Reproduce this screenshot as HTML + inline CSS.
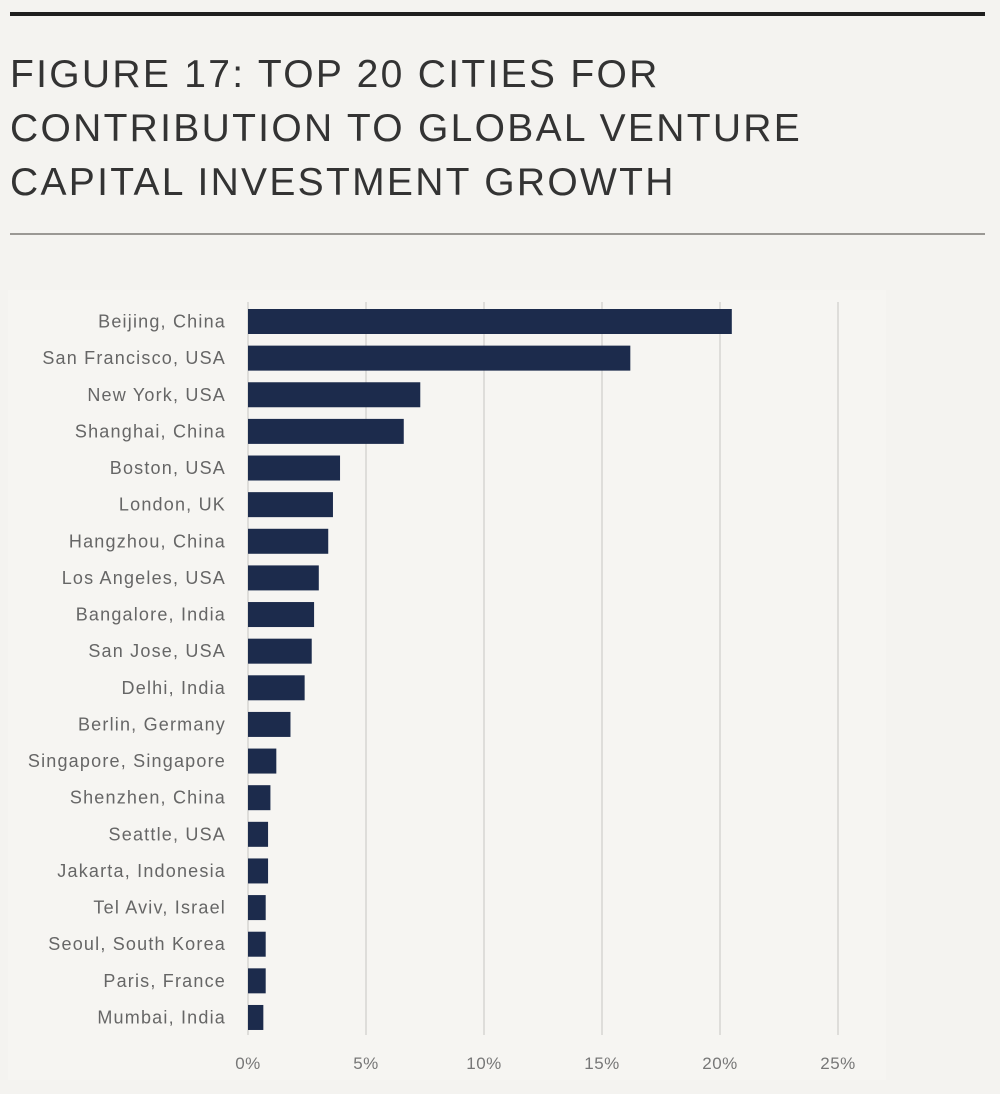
<!DOCTYPE html>
<html><head><meta charset="utf-8"><style>
body{margin:0;width:1000px;height:1094px;background:#f4f3f0;overflow:hidden;font-family:"Liberation Sans",sans-serif;}
.rule1{position:absolute;left:10px;top:12px;width:975px;height:4px;background:#1e1e1e;}
.rule2{position:absolute;left:10px;top:233px;width:975px;height:2px;background:#9a9894;}
.title{position:absolute;left:10px;top:48px;font-size:39px;line-height:54px;letter-spacing:2.3px;color:#333;font-weight:normal;white-space:nowrap;}
.panel{position:absolute;left:8px;top:290px;width:878px;height:790px;background:#f6f5f2;}
svg{position:absolute;left:0;top:0;}
</style></head><body>
<div class="rule1"></div>
<div class="title">FIGURE 17: TOP 20 CITIES FOR<br>CONTRIBUTION TO GLOBAL VENTURE<br>CAPITAL INVESTMENT GROWTH</div>
<div class="rule2"></div>
<div class="panel"></div>
<svg id="chart" width="1000" height="1094"></svg>
<script>
const categories=["Beijing, China","San Francisco, USA","New York, USA","Shanghai, China","Boston, USA","London, UK","Hangzhou, China","Los Angeles, USA","Bangalore, India","San Jose, USA","Delhi, India","Berlin, Germany","Singapore, Singapore","Shenzhen, China","Seattle, USA","Jakarta, Indonesia","Tel Aviv, Israel","Seoul, South Korea","Paris, France","Mumbai, India"];
const values=[20.5,16.2,7.3,6.6,3.9,3.6,3.4,3.0,2.8,2.7,2.4,1.8,1.2,0.95,0.85,0.85,0.75,0.75,0.75,0.65];
const ticks=[0,5,10,15,20,25];
const tickLabels=["0%","5%","10%","15%","20%","25%"];
const svg=document.getElementById('chart');const NS="http://www.w3.org/2000/svg";
const x0=248,pxPer=23.6,y0=321.5,step=36.63,bh=25;
const xs=v=>x0+v*pxPer; const ys=i=>y0+i*step;
function mk(t,a){const e=document.createElementNS(NS,t);for(const k in a)e.setAttribute(k,a[k]);svg.appendChild(e);return e;}
ticks.forEach((t,i)=>{
 const g=mk('line',{x1:xs(t),x2:xs(t),y1:302,y2:1035,stroke:'#d6d5d2','stroke-width':1.5});
 
 
 const l=mk('text',{x:xs(t),y:1069,'text-anchor':'middle','font-size':17,'letter-spacing':0.5,fill:'#777','font-family':'Liberation Sans, sans-serif'});
 l.textContent=tickLabels[i];
 
 
});
categories.forEach((c,i)=>{
 const b=mk('rect',{x:xs(0),y:ys(i)-bh/2,width:xs(values[i])-xs(0),height:bh,fill:'#1c2b4c'});
 
 
 const t=mk('text',{x:226,y:ys(i)+6,'text-anchor':'end','font-size':18,'letter-spacing':1.2,fill:'#666','font-family':'Liberation Sans, sans-serif'});
 t.textContent=c;
 
 
});
</script>
</body></html>
